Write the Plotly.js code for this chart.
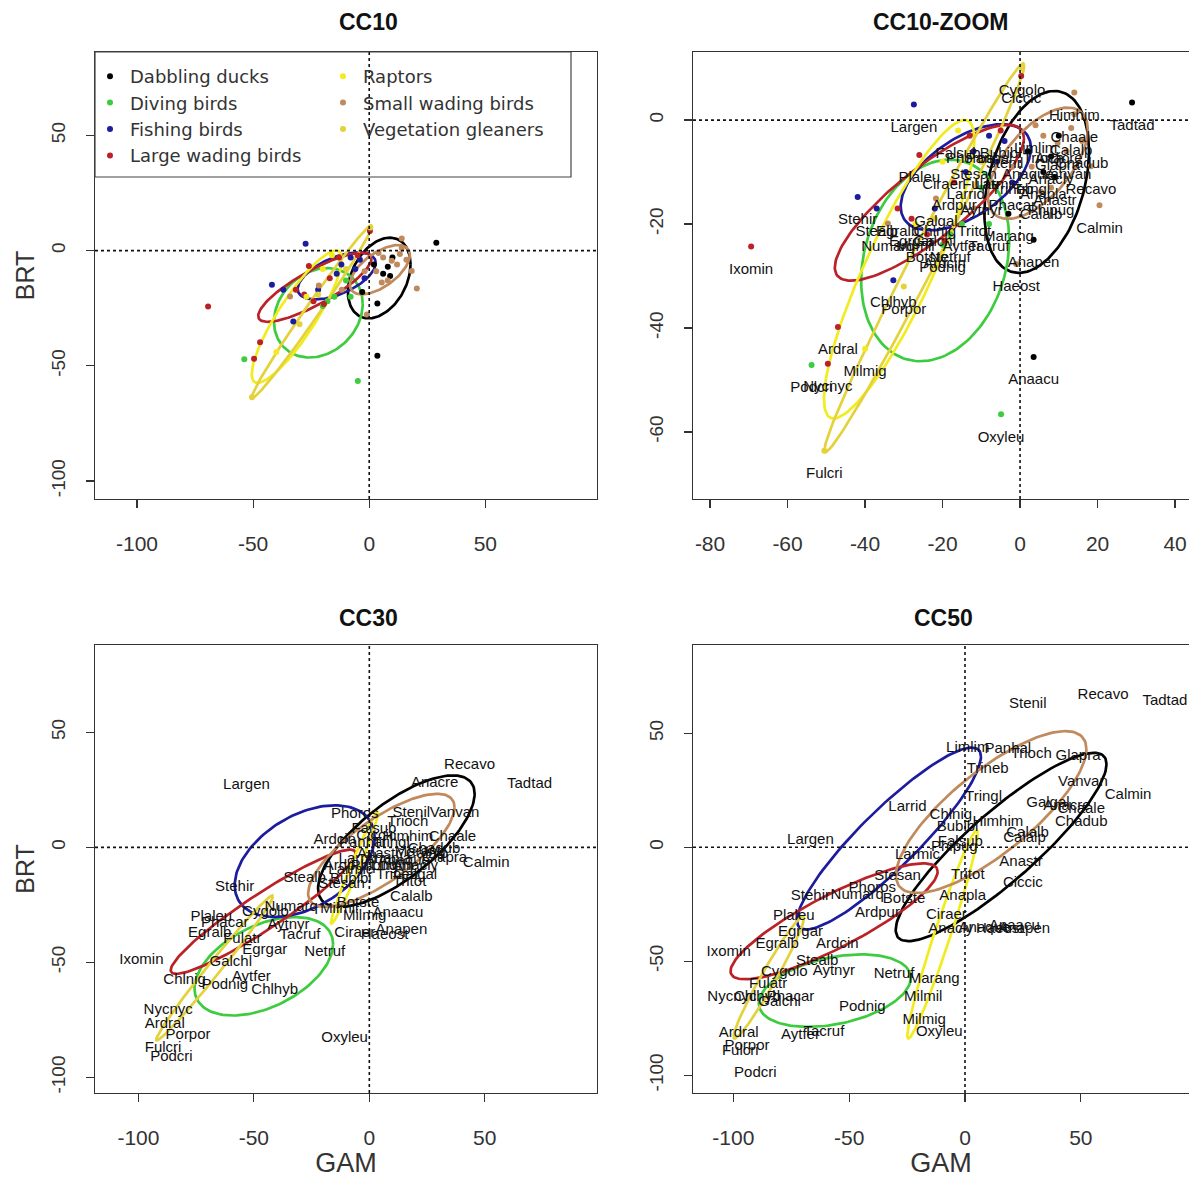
<!DOCTYPE html>
<html><head><meta charset="utf-8">
<script src="https://cdn.plot.ly/plotly-3.0.1.min.js"></script>
<style>html,body{margin:0;padding:0;background:#fff}#chart{width:1189px;height:1178px}</style>
</head><body><div id="chart"></div>
<script>
// ---------------- DATA ----------------
const groupNames = ['Dabbling ducks','Diving birds','Fishing birds','Large wading birds','Raptors','Small wading birds','Vegetation gleaners'];

const species = ['Anaacu','Anacly','Anacre','Anapen','Anapla','Anaque','Anastr','Tadtad','Marang',
'Aytfer','Aytnyr','Netruf','Oxyleu','Podcri','Podnig','Tacruf',
'Largen','Larrid','Larmic','Stealb','Stehir','Stesan','Stenil','Chlhyb','Chlnig','Phacar','Panhal',
'Ixomin','Ardcin','Ardpur','Ardral','Egralb','Egrgar','Nycnyc','Plaleu','Botste','Ciccic','Phoros','Bubibi',
'Ciraer','Milmig','Milmil','Falsub',
'Recavo','Himhim','Calmin','Calalp','Calalb','Chaale','Chadub','Glapra','Vanvan','Trioch','Tringl','Trineb','Tritot','Limlim','Phipug','Numarq','Haeost','Galgal',
'Fulatr','Fulcri','Galchl','Porpor','Cygolo'];

const speciesGroup = [0,0,0,0,0,0,0,0,0,
1,1,1,1,1,1,1,
2,2,2,2,2,2,2,2,2,2,2,
3,3,3,3,3,3,3,3,3,3,3,3,
4,4,4,4,
5,5,5,5,5,5,5,5,5,5,5,5,5,5,5,5,5,5,
6,6,6,6,6];

const cc10_x = [3.5,8,10,3.5,6,2,9,28.9,-3,
-15,-10,-18,-4.9,-53.8,-20,-8,
-27.4,-14,-6,-37,-41.9,-12,-4,-32.7,-22,-2,-8,
-69.4,-19.5,-17,-47,-31.6,-28,-49.6,-26,-24,0.3,-13,-5,
-20,-40,-27,-16,
18.3,14,20.5,13.2,5.4,14,16,9.7,12,6,3,-2,-11.8,4,8,-34.1,-1,-21.7,
-10,-50.5,-22,-30,0.5];
const cc10_y = [-45.6,-7,-3,-23,-10,-6,-11,3.4,-18,
-20,-13,-22,-56.6,-47.1,-24,-20,
3.0,-10,-8,-17,-14.8,-6,-4,-30.8,-17,-12,-3,
-24.3,-23.2,-12,-39.8,-17,-19,-46.9,-6.7,-22,8.5,-3,-2,
-8,-44,-20,-2,
-8.9,5.3,-16.4,-1.5,-13.8,1.1,-4,-4.4,-6,-3,-9,-9,-17,-1,-13,-19.9,-27.7,-15.1,
-8,-63.6,-19,-32,10];

const cc30_x = [12.4,20,28.3,13.9,8,15,4,69.4,22,
-51.1,-35,-19.3,-10.7,-85.7,-62.6,-30,
-53.2,-5,-8,-28,-58.3,-12,18.2,-41,-80,-62.6,-3,
-98.7,-15,-10,-88.6,-69.1,-45.3,-87.1,-68.4,-4.9,3,-6.3,-8,
-6.3,-2,-13,2,
43.4,16.7,50.6,25,18.2,36,28,32.6,36.9,16.7,9.5,12,17.4,10,2,-33.8,6.6,20,
-55,-89.3,-60,-78.5,-45];
const cc30_y = [-28.8,-8,27.7,-36.1,-5,-6,-3,27.4,-2,
-56.4,-34,-45.5,-83.2,-91.2,-60,-38,
27,-5,-10,-13.6,-17.3,-16,15,-62.2,-57.8,-33.2,2,
-49.1,3,-8,-76.7,-37.5,-44.8,-70.9,-30.3,-24.5,5,14.6,-14,
-37.5,-30,-27,8,
35.7,4.5,-7.1,-3,-21.6,4.5,-1,-4.9,15,11,1.6,-12,-15.1,-8,-8,-26,-38.3,-12,
-40,-87.5,-50,-81.7,-28];

const cc50_x = [21.3,-6.1,44,25.6,-1,8.4,24.2,86.3,-13.3,
-71,-56.6,-30.6,-11.1,-90.5,-44.3,-60.9,
-66.7,-24.8,-20.5,-63.8,-66.7,-29.1,27.1,-89.7,-6.1,-75.3,18.5,
-102,-55.1,-37.8,-97.7,-81.1,-71,-100.6,-73.9,-26.3,25,-40,-3.2,
-8,-17.6,-18,-2,
59.6,14.2,70.4,25.7,27,50.2,50.2,48.8,50.9,28.6,8,9.8,1.2,1.2,-4.6,-46.5,15,35.8,
-85,-97,-80,-94.1,-78];
const cc50_y = [-34.7,-36.1,18,-36.1,-21.6,-35.4,-6.4,64.2,-57.8,
-82.5,-54.2,-55.7,-81,-99.1,-70.1,-81,
3,17.5,-3.5,-49.9,-21.6,-12.9,62.5,-65.8,13.9,-65.8,42.9,
-46.2,-42.6,-28.8,-81.7,-42.6,-37.5,-65.8,-30.3,-23,-15.8,-18,8.8,
-30,-75.9,-66,2,
66.8,11,22.6,3.8,6,16.8,11,40,28.4,40.7,22,34.2,-12.2,43.6,0.1,-20.9,-36,19.3,
-60,-89.7,-68,-87.1,-55];

// group ellipses: centre, half-width, half-height, correlation (group order as groupNames)
const ell10_cx = [4.3,-21.9,-14,-23.4,-31.2,4.6,-24.7];
const ell10_cy = [-11.9,-27,-11,-15.9,-28.7,-8.3,-26.5];
const ell10_sx = [13.5,19.1,16.8,24.4,19.4,12.9,25.8];
const ell10_sy = [17.5,19.4,10.2,15,28.7,10.7,37.4];
const ell10_r  = [0.34,0.2,0.55,0.83,0.87,0.6,0.99];

const ell30_cx = [11.7,-45.7,-28,-46,-6.4,5.2,-67];
const ell30_cy = [2.7,-51.7,-6,-28,-8.9,-1.3,-52.4];
const ell30_sx = [33.9,30,30.3,40,10.2,31.7,25.3];
const ell30_sy = [28.6,21.4,24.3,27,24.3,24.6,31.5];
const ell30_r  = [0.72,0.45,0.43,0.94,0.98,0.76,0.99];

const ell50_cx = [15.6,-56.2,-32.8,-56.5,-9.7,11.3,-84.7];
const ell50_cy = [0.1,-62.9,3.8,-32.5,-38.3,15.4,-57.1];
const ell50_sx = [45.5,32.8,39.7,44.7,15.2,41.1,15.2];
const ell50_sy = [41.3,15.9,39.9,25.4,45.6,35.5,26.8];
const ell50_r  = [0.88,0.35,0.9,0.86,0.97,0.78,0.97];

const xTicks = [-100,-50,0,50];
const yTicks = [-100,-50,0,50];
const zoomXTicks = [-80,-60,-40,-20,0,20,40];
const zoomYTicks = [-60,-40,-20,0];

// ---------------- STYLE ----------------
const groupColors = ['#000000','#3dcc3d','#1c1c9e','#bb2228','#f2ec1e','#c08a5c','#e3d23a'];
const FONT = 'Liberation Sans, Arial, sans-serif';
const LEGFONT = 'DejaVu Sans, sans-serif';

function ellipse(cx, cy, sx, sy, r) {
  const xs = [], ys = [], s = Math.sqrt(1 - r * r), n = 140;
  for (let i = 0; i <= n; i++) {
    const t = 2 * Math.PI * i / n;
    xs.push(cx + sx * Math.cos(t));
    ys.push(cy + sy * (r * Math.cos(t) + s * Math.sin(t)));
  }
  return [xs, ys];
}

const traces = [];
function addEllipses(ax, cxA, cyA, sxA, syA, rA) {
  for (let g = 0; g < groupNames.length; g++) {
    const [xs, ys] = ellipse(cxA[g], cyA[g], sxA[g], syA[g], rA[g]);
    traces.push({type:'scatter', mode:'lines', x:xs, y:ys, xaxis:'x'+ax, yaxis:'y'+ax,
      line:{color:groupColors[g], width:2.7}, showlegend:false, hoverinfo:'skip'});
  }
}
function addDots(ax, xs, ys, legend) {
  for (let g = 0; g < groupNames.length; g++) {
    const px = [], py = [];
    for (let i = 0; i < species.length; i++) if (speciesGroup[i] === g) { px.push(xs[i]); py.push(ys[i]); }
    traces.push({type:'scatter', mode:'markers', x:px, y:py, xaxis:'x'+ax, yaxis:'y'+ax,
      name:groupNames[g], marker:{color:groupColors[g], size:6},
      showlegend:legend, legend: g < 4 ? 'legend' : 'legend2', legendgroup:'g'+g});
  }
}
function addLabels(ax, xs, ys, below) {
  traces.push({type:'scatter', mode: below ? 'markers+text' : 'text', x:xs, y:ys, text:species,
    xaxis:'x'+ax, yaxis:'y'+ax, textposition: below ? 'bottom center' : 'middle center',
    marker:{size: below ? 24 : 1, color:'rgba(0,0,0,0)'},
    textfont:{family:FONT, size:15, color:'#111'}, showlegend:false, hoverinfo:'skip'});
}

// panel 1 : CC10
addEllipses('', ell10_cx, ell10_cy, ell10_sx, ell10_sy, ell10_r);
addDots('', cc10_x, cc10_y, true);
// panel 2 : CC10-ZOOM
addEllipses('2', ell10_cx, ell10_cy, ell10_sx, ell10_sy, ell10_r);
addDots('2', cc10_x, cc10_y, false);
addLabels('2', cc10_x, cc10_y, true);
// panel 3 : CC30
addEllipses('3', ell30_cx, ell30_cy, ell30_sx, ell30_sy, ell30_r);
addLabels('3', cc30_x, cc30_y, false);
// panel 4 : CC50
addEllipses('4', ell50_cx, ell50_cy, ell50_sx, ell50_sy, ell50_r);
addLabels('4', cc50_x, cc50_y, false);

const W = 1189, H = 1178;
const px = v => v / W, py = v => 1 - v / H;

function xax(dom, range, ticks, anchor, mirror, title) {
  const a = {domain:dom, range:range, anchor:anchor, autorange:false, showgrid:false, zeroline:false,
    showline:true, linecolor:'#333', linewidth:1.3, mirror:mirror, ticks:'outside', ticklen:8,
    tickwidth:1.2, tickcolor:'#333', tickmode:'array', tickvals:ticks,
    ticktext:ticks.map(String), ticklabelstandoff:17,
    tickfont:{family:FONT, size:21, color:'#333'}, fixedrange:true};
  if (title) a.title = {text:title, font:{family:FONT, size:27, color:'#333'}, standoff:2};
  return a;
}
function yax(dom, range, ticks, anchor, mirror, title) {
  const a = {domain:dom, range:range, anchor:anchor, autorange:false, showgrid:false, zeroline:false,
    showline:true, linecolor:'#333', linewidth:1.3, mirror:mirror, ticks:'outside', ticklen:8,
    tickwidth:1.2, tickcolor:'#333', tickmode:'array', tickvals:ticks,
    ticktext:ticks.map(String), tickangle:-90, ticklabelstandoff:13,
    tickfont:{family:FONT, size:19, color:'#333'}, fixedrange:true};
  if (title) a.title = {text:title, font:{family:FONT, size:25, color:'#333'}, standoff:6};
  return a;
}

const topDom = [py(499), py(52)];
const botDom = [py(1093), py(645)];
const leftDom = [px(95), px(597)];
const rightDom = [px(693), 1];

const shapes = [];
['', '2', '3', '4'].forEach(a => {
  shapes.push({type:'line', xref:'x'+a, yref:'y'+a+' domain', x0:0, x1:0, y0:0, y1:1,
    line:{color:'#111', width:1.6, dash:'dot'}});
  shapes.push({type:'line', xref:'x'+a+' domain', yref:'y'+a, x0:0, x1:1, y0:0, y1:0,
    line:{color:'#111', width:1.6, dash:'dot'}});
});
shapes.push({type:'rect', xref:'paper', yref:'paper', x0:px(95), x1:px(571), y0:py(177), y1:py(52),
  line:{color:'#444', width:1.2}, fillcolor:'rgba(0,0,0,0)'});

function ttl(text, x, y) {
  return {text:'<b>'+text+'</b>', x:px(x), y:py(y), xref:'paper', yref:'paper', showarrow:false,
    xanchor:'center', yanchor:'middle', font:{family:FONT, size:23, color:'#111'}};
}

const layout = {
  width:W, height:H, margin:{l:0, r:0, t:0, b:0}, paper_bgcolor:'#fff', plot_bgcolor:'#fff',
  hovermode:false, showlegend:true,
  font:{family:FONT, color:'#222'},
  xaxis: xax(leftDom, [-118.1, 98.1], xTicks, 'y', true, null),
  yaxis: yax(topDom, [-107.8, 86.2], yTicks, 'x', true, 'BRT'),
  xaxis2: xax(rightDom, [-84.4, 43.6], zoomXTicks, 'y2', true, null),
  yaxis2: yax(topDom, [-72.9, 13.1], zoomYTicks, 'x2', false, null),
  xaxis3: xax(leftDom, [-118.8, 98.6], xTicks, 'y3', true, 'GAM'),
  yaxis3: yax(botDom, [-106.8, 88], yTicks, 'x3', true, 'BRT'),
  xaxis4: xax(rightDom, [-117.4, 96.7], xTicks, 'y4', true, 'GAM'),
  yaxis4: yax(botDom, [-107.8, 88.7], yTicks, 'x4', false, null),
  legend: {x:px(90), y:py(58), xanchor:'left', yanchor:'top', bgcolor:'rgba(0,0,0,0)', borderwidth:0,
    font:{family:LEGFONT, size:18, color:'#333'}, tracegroupgap:0, itemwidth:30},
  legend2: {x:px(323), y:py(58), xanchor:'left', yanchor:'top', bgcolor:'rgba(0,0,0,0)', borderwidth:0,
    font:{family:LEGFONT, size:18, color:'#333'}, tracegroupgap:0, itemwidth:30},
  shapes: shapes,
  annotations: [ttl('CC10', 368, 22), ttl('CC10-ZOOM', 941, 22), ttl('CC30', 368, 618), ttl('CC50', 943, 618)]
};

Plotly.newPlot('chart', traces, layout, {staticPlot:true, displayModeBar:false});
</script></body></html>
